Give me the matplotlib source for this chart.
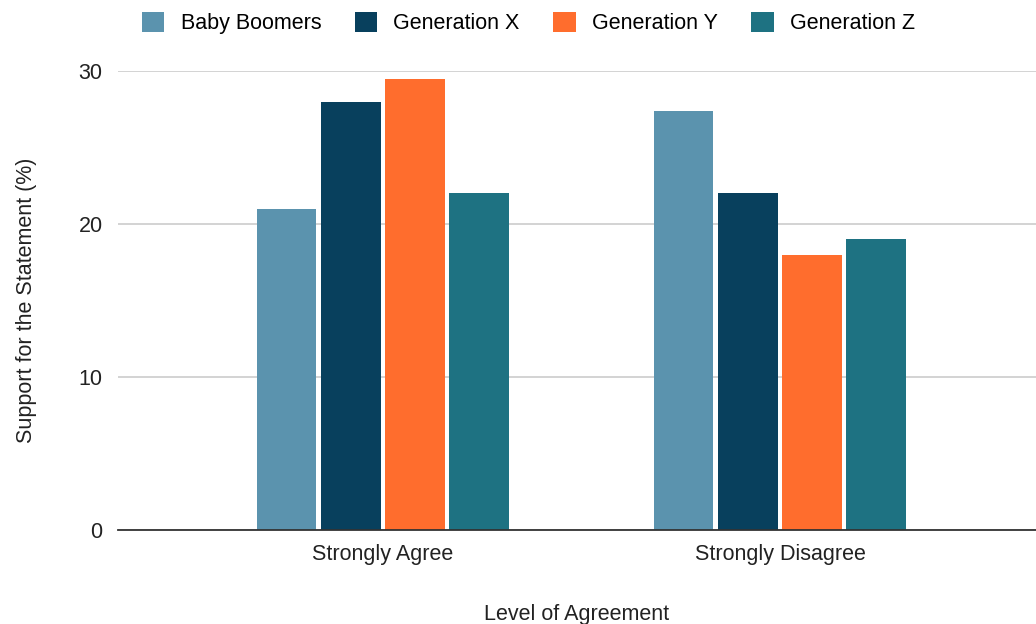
import matplotlib.pyplot as plt
import numpy as np

categories = ['Strongly Agree', 'Strongly Disagree']
series = ['Baby Boomers', 'Generation X', 'Generation Y', 'Generation Z']
baby_boomers = [21, 27.4]
generation_x = [28, 22]
generation_y = [29.5, 18]
generation_z = [22, 19]
colors = ['#5b93ae', '#08405d', '#ff6d2d', '#1e7282']


def main():
    plt.rcParams['font.family'] = ['Liberation Sans', 'DejaVu Sans']
    fig = plt.figure(figsize=(10.36, 6.24), dpi=100)
    ax = fig.add_axes([0.1139, 0.1506, 0.8861, 0.7356])

    x = np.arange(len(categories))
    step, width = 0.162, 0.151
    for i, (name, vals) in enumerate(zip(series, [baby_boomers, generation_x, generation_y, generation_z])):
        ax.bar(x + (i - 1.5) * step, vals, width, color=colors[i], label=name, zorder=3)

    ax.set_xlim(-0.6675, 1.645)
    ax.set_ylim(0, 30)
    ax.set_yticks([0, 10, 20, 30])
    ax.set_xticks(x)
    ax.set_xticklabels(categories)
    ax.tick_params(axis='both', length=0, labelsize=15.5, colors='#222222')
    ax.tick_params(axis='y', pad=11)
    ax.tick_params(axis='x', pad=10)
    ax.grid(axis='y', color='#cccccc', linewidth=1.2, zorder=0)
    for s in ['top', 'right', 'left']:
        ax.spines[s].set_visible(False)
    ax.spines['bottom'].set_color('#333333')
    ax.spines['bottom'].set_linewidth(1.3)
    ax.spines['bottom'].set_zorder(4)

    ax.set_ylabel('Support for the Statement (%)', fontsize=15.5, color='#222222', labelpad=30)
    ax.set_xlabel('Level of Agreement', fontsize=15.5, color='#222222', labelpad=28)

    fig.legend(loc='upper center', bbox_to_anchor=(0.51, 1.012), ncol=4, frameon=False,
               fontsize=15.5, handlelength=1.05, handleheight=1.05, columnspacing=1.55, handletextpad=0.75)

    plt.savefig('out.png', dpi=100)


if __name__ == '__main__':
    main()
